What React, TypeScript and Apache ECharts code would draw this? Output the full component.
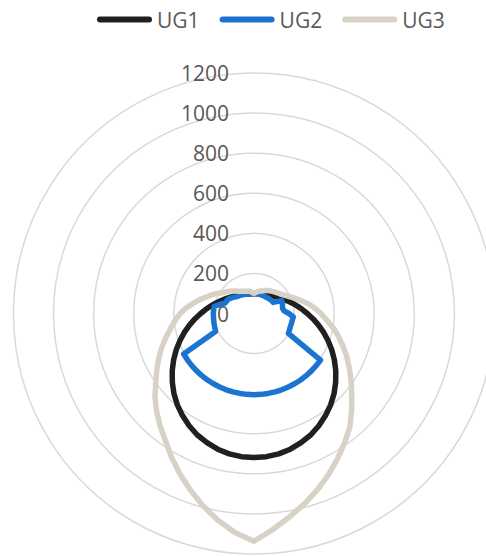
import React, { useEffect, useRef } from "react";
import * as echarts from "echarts";

const angles = [
  0, 5, 10, 15, 20, 25, 30, 35, 40, 45, 50, 55, 60, 65, 70, 75, 80, 85, 90,
  95, 100, 105, 110, 115, 120, 125, 130, 135, 140, 145, 150, 155, 160, 165,
  170, 175, 180, 185, 190, 195, 200, 205, 210, 215, 220, 225, 230, 235, 240,
  245, 250, 255, 260, 265, 270, 275, 280, 285, 290, 295, 300, 305, 310, 315,
  320, 325, 330, 335, 340, 345, 350, 355, 360,
];

const ug1 = [
  99, 99, 100, 101, 103, 106, 110, 114, 119, 126, 133, 142, 153, 166, 181, 198,
  218, 241, 266, 295, 326, 359, 393, 428, 463, 498, 532, 565, 595, 622, 647,
  669, 686, 701, 711, 717, 719, 717, 711, 701, 686, 669, 647, 622, 595, 565,
  532, 498, 463, 428, 393, 359, 326, 295, 266, 241, 218, 198, 181, 166, 153,
  142, 133, 126, 119, 114, 110, 106, 103, 101, 100, 99, 99,
];

const ug2 = [
  100, 100, 100, 100, 100, 100, 100, 101, 103, 105, 107, 109, 111, 152, 151,
  147, 145, 151, 174, 197, 194, 193, 193, 195, 198, 405, 405, 405, 405, 405,
  405, 405, 405, 405, 405, 405, 405, 405, 405, 405, 405, 405, 405, 405, 405,
  405, 405, 405, 405, 212, 208, 206, 204, 203, 203, 202, 202, 176, 153, 150,
  146, 136, 127, 119, 116, 113, 110, 106, 103, 99, 97, 98, 100,
];

const ug3 = [
  101, 105, 112, 116, 120, 127, 132, 138, 144, 150, 158, 167, 180, 198, 220,
  246, 276, 305, 334, 363, 400, 436, 472, 511, 550, 592, 637, 689, 743, 788,
  835, 884, 933, 981, 1029, 1082, 1136, 1097, 1046, 991, 935, 879, 825, 772,
  730, 688, 645, 598, 560, 524, 489, 454, 422, 395, 368, 338, 304, 276, 248,
  225, 203, 183, 171, 159, 147, 135, 128, 122, 118, 116, 113, 105, 101,
];

const seriesNames = ["UG1", "UG2", "UG3"];
const seriesColors = ["#202020", "#1a74d0", "#d8d2c6"];
const radiusTicks = { min: 0, max: 1200, interval: 200 };

const FONT = "'Open Sans', 'Noto Sans', sans-serif";
const LEGEND_ICON = "path://M3,0H52A3,3 0 0 1 52,6H3A3,3 0 0 1 3,0Z";

export default function App() {
  const ref = useRef<HTMLDivElement>(null);
  useEffect(() => {
    document.body.style.margin = "0";
    if (!ref.current) return;
    const chart = echarts.init(ref.current, undefined, { renderer: "svg" });
    const all = [ug1, ug2, ug3];
    chart.setOption({
      animation: false,
      legend: {
        data: seriesNames.map((n) => ({ name: n, icon: LEGEND_ICON })),
        left: 92,
        top: 4,
        itemWidth: 55,
        itemHeight: 6,
        itemGap: 20,
        textStyle: { color: "#595959", fontSize: 21, fontFamily: FONT },
      },
      polar: { center: [254, 313.5], radius: 240.5 },
      angleAxis: {
        type: "value",
        min: 0,
        max: 360,
        startAngle: 90,
        clockwise: true,
        axisLine: { show: false },
        axisTick: { show: false },
        axisLabel: { show: false },
        splitLine: { show: false },
      },
      radiusAxis: {
        type: "value",
        min: radiusTicks.min,
        max: radiusTicks.max,
        interval: radiusTicks.interval,
        axisLine: { show: false },
        axisTick: { show: false },
        axisLabel: {
          show: true,
          margin: 25,
          color: "#595959",
          fontSize: 21,
          fontFamily: FONT,
          formatter: (v: number) => String(v),
        },
        splitLine: {
          show: true,
          lineStyle: { color: "#d9d9d9", width: 1.5 },
        },
      },
      series: seriesNames.map((name, k) => ({
        name,
        type: "line",
        coordinateSystem: "polar",
        symbol: "none",
        smooth: false,
        data: angles.map((a, i) => [all[k][i], a]),
        lineStyle: { color: seriesColors[k], width: 5.5, cap: "round", join: "round" },
        itemStyle: { color: seriesColors[k] },
      })),
    });
    return () => chart.dispose();
  }, []);
  return <div ref={ref} style={{ width: 486, height: 556 }} />;
}
